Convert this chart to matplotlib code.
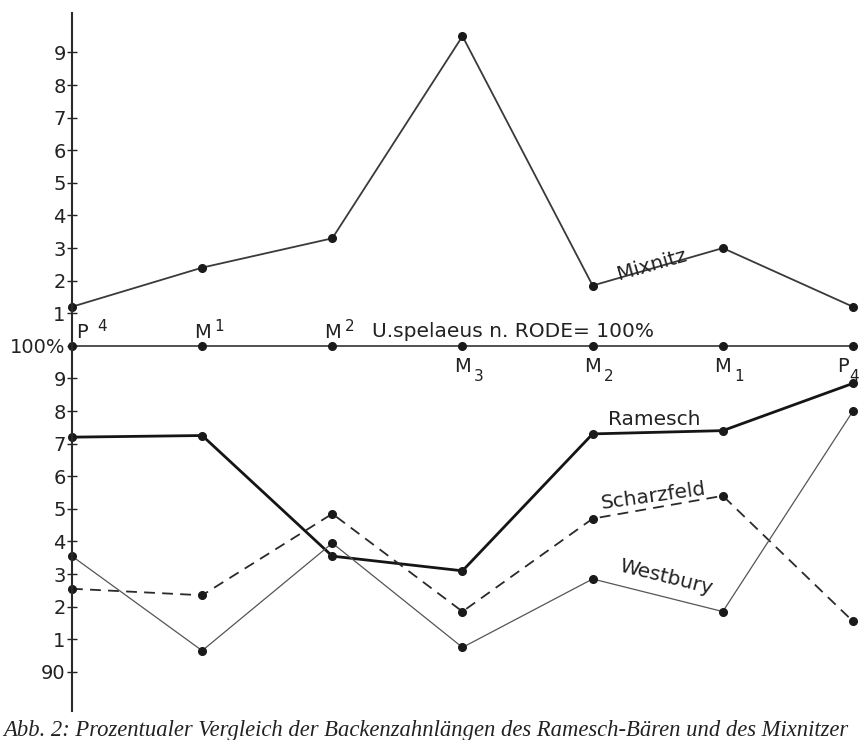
import matplotlib
matplotlib.use("Agg")
import matplotlib.pyplot as plt

# tooth positions along the jaw (upper teeth first, then lower)
TOOTH_LETTER = ["P", "M", "M", "M", "M", "M", "P"]
TOOTH_INDEX = ["4", "1", "2", "3", "2", "1", "4"]
TOOTH_UPPER = [True, True, True, False, False, False, False]

# % of U. spelaeus n. RODE (=100)
BASE = [100, 100, 100, 100, 100, 100, 100]
MIXNITZ = [101.2, 102.4, 103.3, 109.5, 101.85, 103.0, 101.2]
RAMESCH = [97.2, 97.25, 93.55, 93.1, 97.3, 97.4, 98.85]
SCHARZFELD = [92.55, 92.35, 94.85, 91.85, 94.7, 95.4, 91.55]
WESTBURY = [93.55, 90.65, 93.95, 90.75, 92.85, 91.85, 98.0]

YTICKS = list(range(90, 110))
YLABELS = ["90"] + [str(v % 10) for v in range(91, 100)] + ["100%"] + [str(v % 10) for v in range(101, 110)]

CAPTION = "Abb. 2: Prozentualer Vergleich der Backenzahnlängen des Ramesch-Bären und des Mixnitzer"

plt.rcParams["font.family"] = ["DejaVu Sans"]
INK = "#222222"

fig = plt.figure(figsize=(8.6, 7.4), dpi=100)
ax = fig.add_axes([0, 0, 1, 1])
ax.set_xlim(-0.553, 6.054)
ax.set_ylim(87.91, 110.61)

for s in ["top", "right", "bottom"]:
    ax.spines[s].set_visible(False)
ax.spines["left"].set_position(("data", 0))
ax.spines["left"].set_bounds(88.8, 110.2)
ax.spines["left"].set_linewidth(1.5)
ax.spines["left"].set_color("#2a2a2a")
ax.set_xticks([])
ax.set_yticks(YTICKS)
ax.set_yticklabels(YLABELS)
ax.tick_params(axis="y", direction="inout", length=7, width=1, pad=1,
               labelsize=14, colors=INK)

x = list(range(len(BASE)))
dot = dict(marker="o", ms=5.5, mfc="#1a1a1a", mec="#1a1a1a", clip_on=False)
ax.plot(x, BASE, color="#333333", lw=1.2, **dot)
ax.plot(x, MIXNITZ, color="#3a3a3a", lw=1.3, **dot)
ax.plot(x, RAMESCH, color="#151515", lw=2.0, **dot)
ax.plot(x, SCHARZFELD, color="#2a2a2a", lw=1.3, ls=(0, (6, 4)), **dot)
ax.plot(x, WESTBURY, color="#555555", lw=0.9, **dot)

# tooth labels on the 100 % line
big = dict(textcoords="offset points", fontsize=14, color=INK)
small = dict(textcoords="offset points", fontsize=11, color=INK)
last = len(TOOTH_LETTER) - 1
for i, (let, idx, up) in enumerate(zip(TOOTH_LETTER, TOOTH_INDEX, TOOTH_UPPER)):
    if up:
        if i == 0:
            ax.annotate(let, (i, 100), xytext=(3, 6), ha="left", va="baseline", **big)
            ax.annotate(idx, (i, 100), xytext=(18, 11), ha="left", va="baseline", **small)
        else:
            ax.annotate(let, (i, 100), xytext=(0, 6), ha="center", va="baseline", **big)
            ax.annotate(idx, (i, 100), xytext=(9, 11), ha="left", va="baseline", **small)
    else:
        if i == last:
            ax.annotate(let, (i, 100), xytext=(-3, -8), ha="right", va="top", **big)
            ax.annotate(idx, (i, 100), xytext=(-3, -17), ha="left", va="top", **small)
        else:
            ax.annotate(let, (i, 100), xytext=(0, -8), ha="center", va="top", **big)
            ax.annotate(idx, (i, 100), xytext=(8, -17), ha="left", va="top", **small)

ax.text(2.302, 100.45, "U.spelaeus n. RODE= 100%", fontsize=14.5, ha="left",
        va="center", color=INK)

# series names
lab = dict(fontsize=14.5, color=INK, ha="center", va="center", rotation_mode="anchor")
ax.text(4.456, 102.50, "Mixnitz", rotation=16, **lab)
ax.text(4.47, 97.75, "Ramesch", **lab)
ax.text(4.47, 95.4, "Scharzfeld", rotation=8, **lab)
ax.text(4.56, 92.90, "Westbury", rotation=-14, **lab)

fig.text(0.004, 0.006, CAPTION, family=["Liberation Serif", "DejaVu Serif"],
         style="italic", fontsize=16.3, ha="left", va="baseline", color=INK)

fig.savefig("out.png", dpi=100)
